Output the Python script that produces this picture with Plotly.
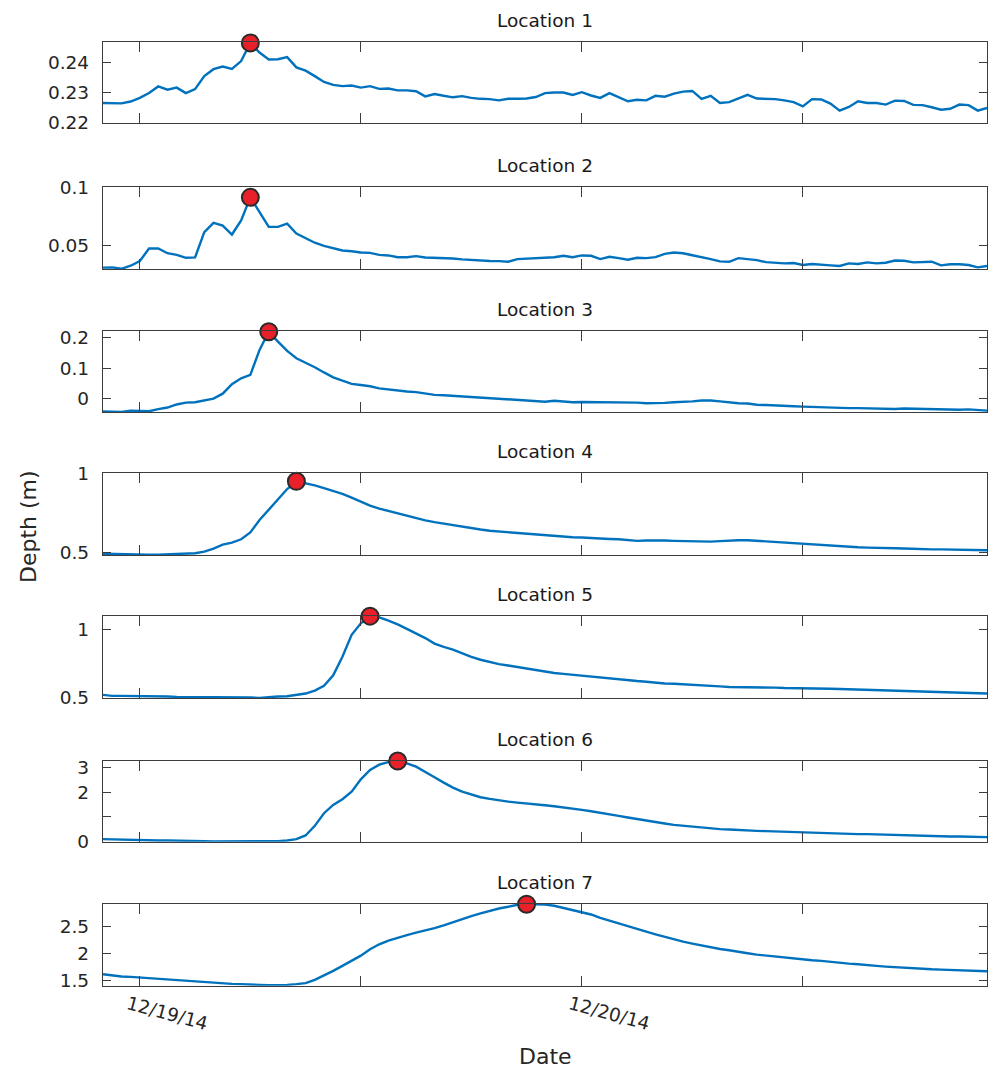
import numpy as np
import pandas as pd
import plotly.graph_objects as go

# ---------------- data ----------------
times = pd.date_range("2014-12-18 22:00", periods=97, freq="30min")

loc1 = [0.2265, 0.2264, 0.2264, 0.2270, 0.2282, 0.2298, 0.2320, 0.2309, 0.2316, 0.2298,
        0.2311, 0.2354, 0.2377, 0.2386, 0.2378, 0.2404, 0.2464, 0.2432, 0.2409, 0.2410,
        0.2417, 0.2383, 0.2372, 0.2354, 0.2335, 0.2325, 0.2321, 0.2323, 0.2316, 0.2321,
        0.2312, 0.2313, 0.2307, 0.2307, 0.2304, 0.2287, 0.2295, 0.2289, 0.2284, 0.2288,
        0.2282, 0.2279, 0.2278, 0.2274, 0.2279, 0.2279, 0.2280, 0.2285, 0.2298, 0.2300,
        0.2300, 0.2292, 0.2301, 0.2290, 0.2282, 0.2298, 0.2285, 0.2271, 0.2276, 0.2274,
        0.2289, 0.2286, 0.2296, 0.2303, 0.2305, 0.2279, 0.2289, 0.2265, 0.2268, 0.2279,
        0.2292, 0.2280, 0.2280, 0.2278, 0.2274, 0.2268, 0.2254, 0.2278, 0.2277, 0.2263,
        0.2240, 0.2252, 0.2271, 0.2265, 0.2265, 0.2260, 0.2273, 0.2272, 0.2259, 0.2258,
        0.2251, 0.2243, 0.2246, 0.2260, 0.2258, 0.2240, 0.2249]

loc2 = [0.0315, 0.0317, 0.0305, 0.0331, 0.0371, 0.0478, 0.0478, 0.0438, 0.0424, 0.0399,
        0.0402, 0.0618, 0.0697, 0.0674, 0.0598, 0.0719, 0.0916, 0.0795, 0.0663, 0.0663,
        0.0691, 0.0607, 0.0565, 0.0528, 0.0500, 0.0480, 0.0461, 0.0455, 0.0444, 0.0441,
        0.0424, 0.0419, 0.0404, 0.0404, 0.0413, 0.0402, 0.0399, 0.0399, 0.0393, 0.0385,
        0.0379, 0.0371, 0.0371, 0.0370, 0.0365, 0.0388, 0.0393, 0.0393, 0.0402, 0.0404,
        0.0416, 0.0404, 0.0419, 0.0416, 0.0388, 0.0407, 0.0396, 0.0382, 0.0399, 0.0396,
        0.0404, 0.0433, 0.0444, 0.0438, 0.0421, 0.0407, 0.0388, 0.0368, 0.0365, 0.0396,
        0.0390, 0.0379, 0.0362, 0.0354, 0.0351, 0.0354, 0.0337, 0.0346, 0.0343, 0.0334,
        0.0329, 0.0351, 0.0346, 0.0360, 0.0351, 0.0357, 0.0376, 0.0374, 0.0360, 0.0360,
        0.0365, 0.0334, 0.0343, 0.0343, 0.0337, 0.0317, 0.0329]

loc3 = [-0.041, -0.041, -0.042, -0.038, -0.039, -0.040, -0.033, -0.028, -0.018, -0.012,
        -0.011, -0.006, 0.001, 0.017, 0.048, 0.067, 0.078, 0.159, 0.218, 0.186,
        0.156, 0.132, 0.118, 0.103, 0.086, 0.070, 0.059, 0.049, 0.045, 0.041,
        0.034, 0.030, 0.027, 0.024, 0.022, 0.018, 0.013, 0.012, 0.010, 0.009,
        0.006, 0.004, 0.002, 0.000, -0.002, -0.004, -0.006, -0.009, -0.009, -0.006,
        -0.009, -0.011, -0.010, -0.010, -0.011, -0.011, -0.011, -0.011, -0.012, -0.014,
        -0.014, -0.013, -0.011, -0.010, -0.008, -0.005, -0.005, -0.008, -0.012, -0.014,
        -0.015, -0.019, -0.020, -0.022, -0.024, -0.024, -0.025, -0.026, -0.027, -0.028,
        -0.031, -0.030, -0.030, -0.031, -0.032, -0.033, -0.033, -0.031, -0.032, -0.033,
        -0.034, -0.034, -0.034, -0.035, -0.034, -0.035, -0.038]

loc4 = [0.491, 0.489, 0.487, 0.487, 0.487, 0.485, 0.485, 0.487, 0.487, 0.489,
        0.494, 0.504, 0.524, 0.549, 0.562, 0.583, 0.626, 0.705, 0.769, 0.833,
        0.902, 0.951, 0.940, 0.925, 0.908, 0.891, 0.872, 0.848, 0.823, 0.797,
        0.778, 0.763, 0.746, 0.731, 0.714, 0.703, 0.692, 0.682, 0.671, 0.662,
        0.652, 0.645, 0.637, 0.632, 0.628, 0.624, 0.620, 0.613, 0.609, 0.605,
        0.600, 0.596, 0.594, 0.590, 0.588, 0.585, 0.583, 0.577, 0.573, 0.575,
        0.577, 0.575, 0.573, 0.571, 0.568, 0.568, 0.568, 0.571, 0.575, 0.577,
        0.577, 0.573, 0.568, 0.564, 0.560, 0.556, 0.553, 0.549, 0.545, 0.541,
        0.536, 0.534, 0.532, 0.530, 0.530, 0.528, 0.526, 0.524, 0.521, 0.521,
        0.519, 0.519, 0.517, 0.517, 0.517, 0.515, 0.513]

loc5 = [0.517, 0.510, 0.510, 0.510, 0.507, 0.507, 0.507, 0.505, 0.502, 0.502,
        0.500, 0.500, 0.500, 0.498, 0.498, 0.498, 0.498, 0.495, 0.502, 0.505,
        0.507, 0.515, 0.527, 0.549, 0.585, 0.663, 0.800, 0.963, 1.049, 1.102,
        1.093, 1.068, 1.041, 1.007, 0.976, 0.939, 0.898, 0.873, 0.854, 0.824,
        0.800, 0.778, 0.760, 0.746, 0.735, 0.724, 0.712, 0.700, 0.688, 0.680,
        0.673, 0.666, 0.661, 0.654, 0.644, 0.639, 0.632, 0.627, 0.620, 0.615,
        0.607, 0.602, 0.600, 0.595, 0.590, 0.588, 0.583, 0.580, 0.576, 0.576,
        0.573, 0.573, 0.571, 0.571, 0.568, 0.568, 0.566, 0.566, 0.563, 0.563,
        0.561, 0.559, 0.556, 0.556, 0.554, 0.551, 0.546, 0.544, 0.541, 0.541,
        0.539, 0.539, 0.537, 0.534, 0.532, 0.529, 0.527]

loc6 = [0.095, 0.081, 0.068, 0.068, 0.054, 0.054, 0.041, 0.041, 0.027, 0.027,
        0.014, 0.014, 0.005, 0.005, 0.003, 0.003, 0.003, 0.003, 0.005, 0.014,
        0.041, 0.095, 0.243, 0.635, 1.149, 1.486, 1.716, 2.027, 2.527, 2.905,
        3.122, 3.230, 3.270, 3.176, 3.041, 2.838, 2.608, 2.392, 2.189, 2.027,
        1.905, 1.797, 1.730, 1.662, 1.622, 1.581, 1.554, 1.514, 1.473, 1.432,
        1.392, 1.338, 1.284, 1.230, 1.176, 1.108, 1.041, 0.973, 0.905, 0.838,
        0.784, 0.730, 0.676, 0.635, 0.595, 0.554, 0.527, 0.500, 0.486, 0.459,
        0.446, 0.432, 0.419, 0.405, 0.392, 0.378, 0.365, 0.351, 0.338, 0.324,
        0.311, 0.311, 0.297, 0.297, 0.284, 0.284, 0.270, 0.257, 0.243, 0.243,
        0.230, 0.216, 0.203, 0.203, 0.189, 0.189, 0.176]

loc7 = [1.616, 1.591, 1.573, 1.567, 1.555, 1.543, 1.524, 1.512, 1.500, 1.488,
        1.476, 1.463, 1.451, 1.445, 1.439, 1.433, 1.421, 1.421, 1.415, 1.415,
        1.421, 1.433, 1.451, 1.512, 1.591, 1.677, 1.768, 1.860, 1.957, 2.073,
        2.165, 2.232, 2.287, 2.335, 2.378, 2.415, 2.463, 2.512, 2.573, 2.622,
        2.683, 2.732, 2.780, 2.823, 2.854, 2.890, 2.902, 2.899, 2.896, 2.872,
        2.835, 2.793, 2.762, 2.713, 2.652, 2.598, 2.549, 2.500, 2.445, 2.396,
        2.348, 2.299, 2.256, 2.213, 2.177, 2.140, 2.104, 2.079, 2.055, 2.024,
        2.000, 1.976, 1.957, 1.939, 1.921, 1.902, 1.890, 1.872, 1.860, 1.841,
        1.829, 1.811, 1.799, 1.780, 1.768, 1.756, 1.744, 1.732, 1.720, 1.713,
        1.707, 1.701, 1.695, 1.689, 1.677, 1.677, 1.671]

series = [loc1, loc2, loc3, loc4, loc5, loc6, loc7]
titles = ["Location 1", "Location 2", "Location 3", "Location 4",
          "Location 5", "Location 6", "Location 7"]

y_ranges = [[0.2200, 0.2466], [0.0303, 0.1002], [-0.0425, 0.2205], [0.483, 1.004],
            [0.494, 1.103], [-0.01, 3.272], [1.405, 2.905]]
y_tickvals = [[0.22, 0.23, 0.24], [0.05, 0.1], [0, 0.1, 0.2], [0.5, 1],
              [0.5, 1], [0, 1, 2, 3], [1.5, 2, 2.5]]
y_ticktext = [["0.22", "0.23", "0.24"], ["0.05", "0.1"], ["0", "0.1", "0.2"], ["0.5", "1"],
              ["0.5", "1"], ["0", "", "2", "3"], ["1.5", "2", "2.5"]]

x_tickvals = ["2014-12-19 00:00", "2014-12-19 12:00", "2014-12-20 00:00", "2014-12-20 12:00"]
x_ticktext = ["12/19/14", "", "12/20/14", ""]
x_range = ["2014-12-18 22:00", "2014-12-20 22:00"]

# ---------------- layout geometry ----------------
W, H = 991, 1071
panel_px = [(42.3, 122.7), (187.3, 269.0), (331.0, 412.0), (473.0, 555.0),
            (616.0, 698.0), (761.0, 841.7), (904.0, 985.7)]
x_left_px, x_right_px = 103.0, 987.0

FONT = "DejaVu Sans"
AX_COLOR = "#3c3c3c"
TXT_COLOR = "#262626"
LINE_COLOR = "#0072BD"
TICK_SIZE = 18.5
TITLE_SIZE = 18.5

fig = go.Figure()
layout = dict(
    width=W, height=H, margin=dict(l=0, r=0, t=0, b=0, autoexpand=False),
    paper_bgcolor="white", plot_bgcolor="white", showlegend=False,
    font=dict(family=FONT, size=TICK_SIZE, color=TXT_COLOR),
)
annotations = []
xdom = [x_left_px / W, x_right_px / W]

for k in range(7):
    n = k + 1
    xa = "x" if n == 1 else f"x{n}"
    ya = "y" if n == 1 else f"y{n}"
    vals = np.array(series[k])
    fig.add_trace(go.Scatter(x=times, y=vals, mode="lines",
                             line=dict(color=LINE_COLOR, width=2.4),
                             xaxis=xa, yaxis=ya, hoverinfo="skip"))
    ip = int(np.argmax(vals))
    fig.add_trace(go.Scatter(x=[times[ip]], y=[vals[ip]], mode="markers",
                             marker=dict(size=17, color="#E8202A",
                                         line=dict(color="#2a2a2a", width=2)),
                             cliponaxis=False, xaxis=xa, yaxis=ya))
    top, bot = panel_px[k]
    ydom = [1 - bot / H, 1 - top / H]
    xkey = "xaxis" if n == 1 else f"xaxis{n}"
    ykey = "yaxis" if n == 1 else f"yaxis{n}"
    xcfg = dict(domain=xdom, anchor=ya, type="date", range=x_range, automargin=False,
                tickmode="array", tickvals=x_tickvals, ticktext=x_ticktext,
                ticks="inside", ticklen=10, tickwidth=1.2, tickcolor=AX_COLOR,
                showline=True, linecolor=AX_COLOR, linewidth=1.3, mirror="ticks",
                showgrid=False, zeroline=False,
                showticklabels=(n == 7), tickangle=15,
                ticklabelstandoff=0, ticklabelshift=-12,
                tickfont=dict(family=FONT, size=TICK_SIZE, color=TXT_COLOR))
    if n != 1:
        xcfg["matches"] = "x"
    layout[xkey] = xcfg
    layout[ykey] = dict(domain=ydom, anchor=xa, range=y_ranges[k], automargin=False,
                        tickmode="array", tickvals=y_tickvals[k], ticktext=y_ticktext[k],
                        ticks="inside", ticklen=8, tickwidth=1.2, tickcolor=AX_COLOR,
                        showline=True, linecolor=AX_COLOR, linewidth=1.3, mirror="ticks",
                        showgrid=False, zeroline=False, ticklabelstandoff=9,
                        tickfont=dict(family=FONT, size=TICK_SIZE, color=TXT_COLOR))
    annotations.append(dict(text=titles[k], xref="paper", yref="paper",
                            x=(xdom[0] + xdom[1]) / 2, y=1 - (top - 22) / H,
                            xanchor="center", yanchor="middle", showarrow=False,
                            font=dict(family=FONT, size=TITLE_SIZE, color="#1a1a1a")))

annotations.append(dict(text="Depth (m)", xref="paper", yref="paper",
                        x=28 / W, y=1 - 527 / H, textangle=-90,
                        xanchor="center", yanchor="middle", showarrow=False,
                        font=dict(family=FONT, size=22, color=TXT_COLOR)))
annotations.append(dict(text="Date", xref="paper", yref="paper",
                        x=(xdom[0] + xdom[1]) / 2, y=1 - 1056 / H,
                        xanchor="center", yanchor="middle", showarrow=False,
                        font=dict(family=FONT, size=22, color=TXT_COLOR)))
layout["annotations"] = annotations
fig.update_layout(**layout)

fig.write_html("out.html", config={"displayModeBar": False},
               post_script="document.body.style.margin='0';")
